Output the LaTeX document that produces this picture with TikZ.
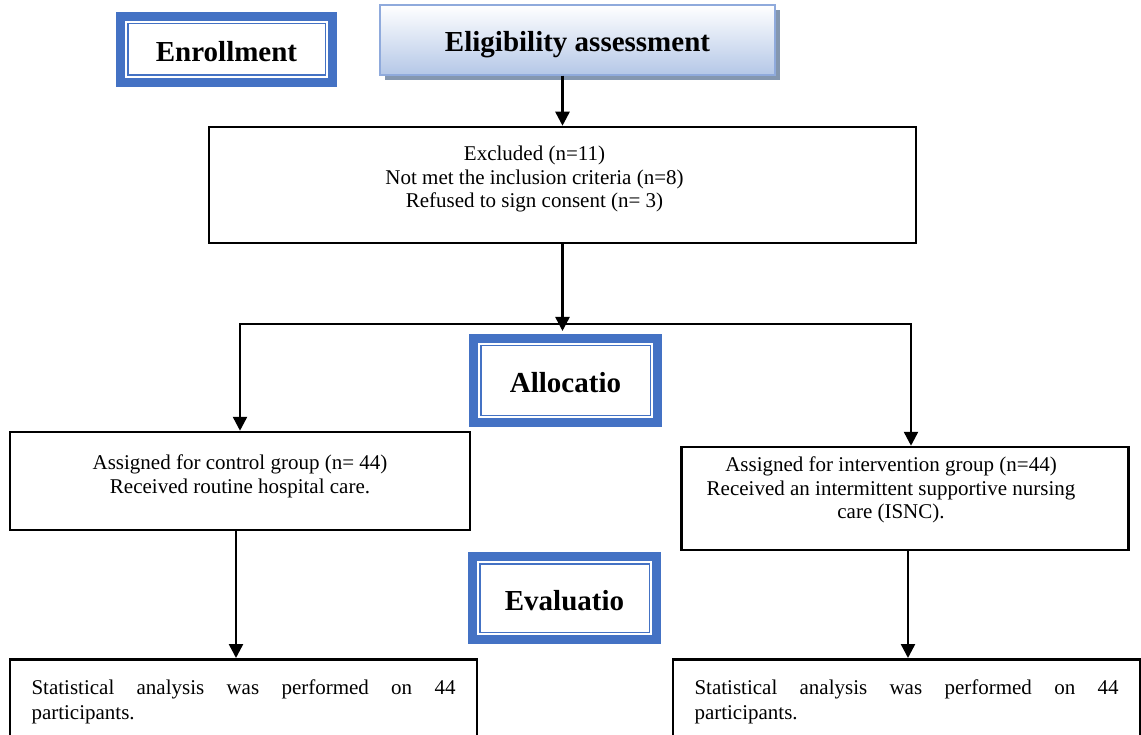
\documentclass[tikz,border=0pt]{standalone}
\usepackage{fontspec}
\setmainfont{Liberation Serif}
\usetikzlibrary{arrows.meta, positioning, shadows, calc}
\definecolor{phaseblue}{RGB}{68,114,196}
\definecolor{eliglight}{RGB}{180,199,231}
\definecolor{eligborder}{RGB}{143,170,220}
\definecolor{eligshadow}{RGB}{132,151,176}
\tikzset{
  box/.style     = {draw=black, line width=2.5pt, align=center, inner xsep=10pt, inner ysep=0pt,
                    font=\fontsize{21}{23.5}\selectfont},
  statbox/.style = {draw=black, line width=2.5pt, text width=424pt, inner xsep=21.5pt,
                    inner ysep=0pt, minimum height=86pt, align=left,
                    font=\fontsize{21}{25}\selectfont},
  phase/.style   = {draw=phaseblue, line width=9pt, fill=white, inner sep=0pt, outer sep=0pt,
                    text height=24pt, text depth=0pt,
                    font=\fontsize{29}{32}\selectfont\bfseries},
  elig/.style    = {draw=eligborder, line width=1.5pt, top color=white, bottom color=eliglight,
                    drop shadow={shadow xshift=5pt, shadow yshift=-5pt, fill=eligshadow, opacity=1},
                    minimum width=395pt, minimum height=70pt, text height=24pt, text depth=0pt,
                    font=\fontsize{29}{32}\selectfont\bfseries},
  arrow/.style   = {-{Triangle[width=14pt,length=14pt]}, line width=2.5pt},
}
% extra depth on the last line lifts a box's text, a blank tail pushes it left
\newcommand{\lift}[1]{\rule[-#1]{0pt}{#1}}
\newcommand{\tail}[1]{\rule{#1}{0pt}}

\begin{document}
\begin{tikzpicture}[x=1pt, y=-1pt]
  \useasboundingbox (0,0) rectangle (1141,735);
  \clip (0,0) rectangle (1141,735);

  % phase labels and top box
  \node[phase, minimum width=212pt, minimum height=66pt] (enrol) at (226.5,49.5) {Enrollment};
  \node[elig] (elig) at (577.5,40) {Eligibility assessment};
  \node[phase, minimum width=184pt, minimum height=84pt] (alloc) at (565.5,380.5) {Allocatio};
  \node[phase, minimum width=184pt, minimum height=83pt] (eval) at (564.5,598) {Evaluatio};
  \foreach \n in {enrol, alloc, eval}
    \draw[phaseblue, line width=1.5pt] ([shift={(7.25pt,-7.25pt)}]\n.north west)
      rectangle ([shift={(-7.25pt,7.25pt)}]\n.south east);

  % flow boxes
  \node[box, minimum width=707pt, minimum height=116pt] (excl) at (562.5,185)
    {Excluded (n=11)\tail{56pt}\\Not met the inclusion criteria (n=8)\tail{56pt}\\
     Refused to sign consent (n= 3)\tail{56pt}\lift{16pt}};
  \node[box, minimum width=460pt, minimum height=98pt] (ctrl) at (240,481)
    {Assigned for control group (n= 44)\\Received routine hospital care.\lift{14pt}};
  \node[box, minimum width=447pt, minimum height=103pt] (intv) at (905,498.5)
    {Assigned for intervention group (n=44)\tail{28pt}\\
     Received an intermittent supportive nursing\tail{28pt}\\care (ISNC).\tail{28pt}\lift{21pt}};
  \node[statbox, anchor=north] (statc) at (243.5,658)
    {\hbox to 424pt{Statistical\hfill analysis\hfill was\hfill performed\hfill on\hfill 44}\\participants.};
  \node[statbox, anchor=north] (stati) at (906.5,658)
    {\hbox to 424pt{Statistical\hfill analysis\hfill was\hfill performed\hfill on\hfill 44}\\participants.};

  % connectors
  \coordinate (split) at (562.5,331);
  \coordinate (bl) at (240,324);
  \coordinate (br) at (911,324);
  \draw[arrow] (elig.south -| excl.north) -- (excl.north);
  \draw[arrow] (excl.south) -- (split);
  \draw[arrow] (br) -- (bl) -- (ctrl.north);
  \draw[arrow] (bl) -- (br) -- (br |- intv.north);
  \draw[arrow] ([xshift=-4pt]ctrl.south) -- ([xshift=-4pt]ctrl.south |- statc.north);
  \draw[arrow] ([xshift=3pt]intv.south) -- ([xshift=3pt]intv.south |- stati.north);
\end{tikzpicture}
\end{document}
